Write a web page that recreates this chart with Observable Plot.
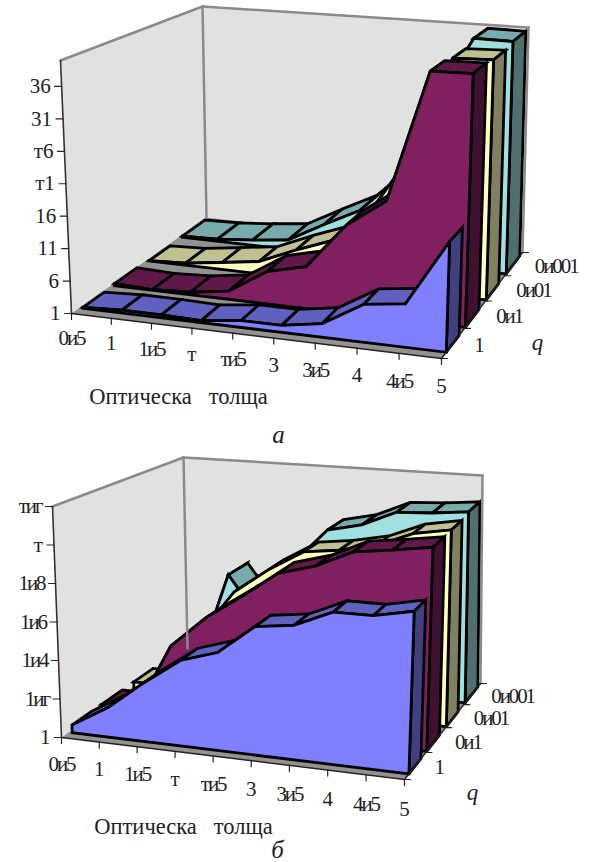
<!DOCTYPE html>
<html><head><meta charset="utf-8">
<style>
html,body{margin:0;padding:0;background:#fff}
.tight text{letter-spacing:-2.1px}
svg{display:block}
</style>
<script src="https://cdn.jsdelivr.net/npm/d3@7"></script>
<script src="https://cdn.jsdelivr.net/npm/@observablehq/plot@0.6"></script>
</head><body><div id="chart"></div>
<script>
const tauLabels = ["0и5","1","1и5","т","ти5","3","3и5","4","4и5","5"];
const qLabels = ["1","0и1","0и01","0и001"];
const axisTitle = "Оптическа   толща";
const a_q1     = [1.15,1.45,1.45,1.3,2.05,2.05,3.05,6.6,7.4,17.2];
const a_q01    = [1.33,1.1,1.4,2.28,6.08,7.55,14.6,19,39.5,39.6];
const a_q001   = [1.05,1.33,2.15,3,5.6,7.9,13.5,23,39,39.2];
const a_q0001  = [1.2,1.36,1.9,2.6,5.9,9,15,28.7,39.8,39.7];
const a_ticks  = [1,6,11,16,21,26,31,36];
const a_tickLabels = ["1","6","11","16","т1","т6","31","36"];
const b_q1     = [1.04,1.155,1.305,1.44,1.5,1.65,1.675,1.76,1.76,1.80];
const b_q01    = [1.04,1.04,1.40,1.57,1.70,1.84,1.895,1.985,2.01,2.04];
const b_q001   = [1.04,1.04,1.36,1.61,1.75,1.865,1.89,1.93,2.01,2.045];
const b_q0001  = [1.04,1.04,1.59,1.33,1.70,1.90,1.944,2.03,2.04,2.06];
const b_ticks  = [1,1.2,1.4,1.6,1.8,2,2.2];
const b_tickLabels = ["1","1иг","1и4","1и6","1и8","т","тиг"];

const frontFill = ["#8080ff","#802060","#ffffc0","#a0e0e0"];
const stripFill = ["#6060c0","#601848","#c0c090","#78acac"];
const endFill   = ["#404080","#401030","#808060","#507070"];
const depthFrom = [0.05,0.26,0.51,0.77];
const depthTo   = [0.19,0.42,0.67,0.96];
const ribbonStart = 0.01;

function homography(q){
  const [[x0,y0],[x1,y1],[x2,y2],[x3,y3]] = q;
  const dx1=x1-x2,dx2=x3-x2,sx=x0-x1+x2-x3,dy1=y1-y2,dy2=y3-y2,sy=y0-y1+y2-y3;
  const den=dx1*dy2-dx2*dy1, g=(sx*dy2-dx2*sy)/den, h=(dx1*sy-sx*dy1)/den;
  const a=x1-x0+g*x1,b=x3-x0+h*x3,d=y1-y0+g*y1,e=y3-y0+h*y3;
  return (u,v)=>{const w=g*u+h*v+1;return [(a*u+b*v+x0)/w,(d*u+e*v+y0)/w];};
}
function panel(cfg){
  const fl=homography(cfg.floor), tp=homography(cfg.top);
  const P=(u,v,val)=>{const t=(val-cfg.min)/(cfg.max-cfg.min),f=fl(u,v),k=tp(u,v);
    return [f[0]+(k[0]-f[0])*t,f[1]+(k[1]-f[1])*t];};
  const polys=[],thin=[],texts=[],tight=[];
  let id=0;
  const add=(pts,fill,stroke)=>{const n=id++;pts.forEach(p=>polys.push({id:cfg.name+n,x:p[0],y:p[1],fill,stroke}));};
  const F=cfg.floor,T=cfg.top;
  add([F[3],F[2],T[2],T[3]],"#e1e1e1","none");
  add([F[0],F[3],T[3],T[0]],"#e1e1e1","none");
  add(F,"#929292","none");
  const n=tauLabels.length-1;
  const U=i=>ribbonStart+(1-ribbonStart)*i/n;
  for(let s=3;s>=0;s--){
    const vals=cfg.series[s],v0=depthFrom[s],v1=depthTo[s];
    for(let i=0;i<n;i++){
      add([P(U(i),v0,vals[i]),P(U(i+1),v0,vals[i+1]),P(U(i+1),v1,vals[i+1]),P(U(i),v1,vals[i])],stripFill[s],"#000");
    }
    add([P(1,v0,cfg.min),P(1,v1,cfg.min),P(1,v1,vals[n]),P(1,v0,vals[n])],endFill[s],"#000");
    const face=[P(U(0),v0,cfg.min)];
    vals.forEach((val,i)=>face.push(P(U(i),v0,val)));
    face.push(P(1,v0,cfg.min));
    add(face,frontFill[s],"#000");
  }
  const seg=(a,b,color,w)=>{const k=id++;[a,b].forEach(p=>thin.push({id:cfg.name+"l"+k,x:p[0],y:p[1],color,w}));};
  seg(T[0],T[3],"#8a8a8a",2.5);seg(T[3],T[2],"#8a8a8a",2.5);seg(T[3],F[3],"#8a8a8a",2.5);seg(T[2],F[2],"#8a8a8a",2.5);
  seg(F[0],T[0],"#333",1.6);seg(F[0],F[1],"#222",1.4);seg(F[1],F[2],"#222",1.4);
  tauLabels.forEach((lab,i)=>{const p=fl(i/n,0);seg(p,[p[0],p[1]+6],"#222",1.2);
    const o={x:p[0],y:p[1]+cfg.tauDy+3*i/n,text:lab,anchor:"middle"};(lab.includes("и")?tight:texts).push(o);});
  for(let j=0;j<=4;j++){const p=fl(1,j/4);seg(p,[p[0]+6,p[1]],"#222",1.2);}
  qLabels.forEach((lab,j)=>{const p=fl(1,(j+.5)/4);
    const o={x:p[0]+cfg.qDx,y:p[1]+2,text:lab,anchor:"start"};(lab.includes("и")?tight:texts).push(o);});
  cfg.ticks.forEach((t,i)=>{const p=P(0,0,t);seg(p,[p[0]-7,p[1]],"#222",1.2);
    const o={x:p[0]-11,y:p[1],text:cfg.tickLabels[i],anchor:"end"};(o.text.includes("и")?tight:texts).push(o);});
  const titles=[{x:cfg.title[0],y:cfg.title[1],text:axisTitle}];
  const ital=[{x:cfg.qPos[0],y:cfg.qPos[1],text:"q",size:20},{x:cfg.cap[0],y:cfg.cap[1],text:cfg.capText,size:24}];
  return {polys,thin,texts,tight,titles,ital};
}
const pa=panel({name:"a",min:1,max:40,series:[a_q1,a_q01,a_q001,a_q0001],ticks:a_ticks,tickLabels:a_tickLabels,
  floor:[[71,313],[441,358],[522,252],[206,217]],top:[[60,60],[449,89],[528,27],[202,6]],
  tauDy:25,qDx:21,title:[178,396],qPos:[537,342],cap:[278,434],capText:"а"});
const pb=panel({name:"b",min:1,max:2.2,series:[b_q1,b_q01,b_q001,b_q0001],ticks:b_ticks,tickLabels:b_tickLabels,
  floor:[[61,737],[404,779],[480,683],[187,648]],top:[[52,506],[412,533],[482,475],[183,457]],
  tauDy:27,qDx:19,title:[183,826],qPos:[472,792],cap:[277,849],capText:"б"});
const cat=k=>pa[k].concat(pb[k]);
const byAnchor=(arr,a)=>arr.filter(d=>d.anchor===a);
const txt=(arr,a,cls)=>Plot.text(byAnchor(arr,a),{x:"x",y:"y",text:"text",textAnchor:a,fontSize:21,fill:"#222",className:cls,lineAnchor:"middle"});
const chart=Plot.plot({
  width:595,height:862,margin:0,
  style:{fontFamily:"'Liberation Serif',serif",background:"#fff"},
  x:{domain:[0,595],range:[0,595],axis:null},
  y:{domain:[0,862],range:[0,862],axis:null},
  color:{type:"identity"},
  marks:[
    Plot.line(cat("polys"),{x:"x",y:"y",z:"id",fill:"fill",stroke:"stroke",strokeWidth:2.8,curve:"linear-closed",strokeLinejoin:"miter",strokeMiterlimit:3}),
    Plot.line(cat("thin"),{x:"x",y:"y",z:"id",stroke:"color",strokeWidth:"w"}),
    txt(cat("texts"),"middle"),txt(cat("texts"),"start"),txt(cat("texts"),"end"),
    txt(cat("tight"),"middle","tight"),txt(cat("tight"),"start","tight"),txt(cat("tight"),"end","tight"),
    Plot.text(cat("titles"),{x:"x",y:"y",text:"text",fontSize:22.5,fill:"#222"}),
    Plot.text(cat("ital").filter(d=>d.size===20),{x:"x",y:"y",text:"text",fontSize:23,fontStyle:"italic",fill:"#222"}),
    Plot.text(cat("ital").filter(d=>d.size===24),{x:"x",y:"y",text:"text",fontSize:25,fontStyle:"italic",fill:"#222"})
  ]
});
document.getElementById("chart").append(chart);
</script></body></html>
